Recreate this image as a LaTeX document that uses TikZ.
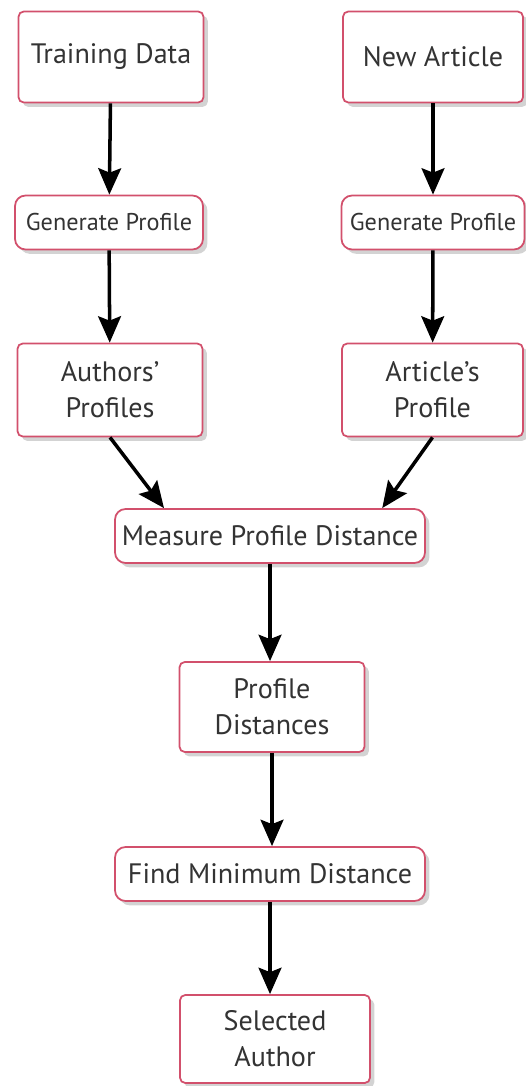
\documentclass[tikz,border=0pt]{standalone}
\usepackage{fontspec}
\setmainfont{PT Sans}
\usepackage{tikz}
\usetikzlibrary{arrows.meta, positioning, calc, shadows}
\usepackage{xcolor}
\definecolor{flowpink}{HTML}{D2506C}
\definecolor{flowtext}{HTML}{333333}

\begin{document}
\begin{tikzpicture}[
  box/.style={
    rectangle, rounded corners=3pt,
    draw=flowpink, line width=1pt, fill=white,
    drop shadow={opacity=0.35, shadow xshift=2.5pt, shadow yshift=-2.5pt},
    font=\fontsize{16}{20.5}\selectfont\color{flowtext}, align=center,
    inner sep=1pt
  },
  bigbox/.style={box, minimum width=3.7cm, minimum height=1.82cm},
  stepbox/.style={box, rounded corners=6pt, minimum height=1.08cm},
  genbox/.style={stepbox, font=\fontsize{13.8}{16}\selectfont\color{flowtext}},
  arr/.style={-{Stealth[length=15pt, width=13pt, inset=2.5pt]}, line width=2pt, black}
]
  \useasboundingbox (0,0) rectangle (10.52,-21.72);

  \node[bigbox] (train) at (2.22,-1.14) {Training Data};
  \node[bigbox, minimum width=3.6cm] (article) at (8.66,-1.14) {New Article};

  \node[genbox, minimum width=3.76cm] (gen1) at (2.18,-4.45) {Generate Profile};
  \node[genbox, minimum width=3.66cm] (gen2) at (8.66,-4.45) {Generate Profile};

  \node[bigbox, minimum height=1.86cm] (authors) at (2.2,-7.8) {Authors'\\Profiles};
  \node[bigbox, minimum width=3.62cm, minimum height=1.86cm] (artprof) at (8.65,-7.8) {Article's\\Profile};

  \node[stepbox, minimum width=6.2cm] (measure) at (5.4,-10.72) {Measure Profile Distance};
  \node[bigbox, minimum width=3.7cm, minimum height=1.8cm] (dists) at (5.44,-14.14) {Profile\\Distances};
  \node[stepbox, minimum width=6.2cm] (findmin) at (5.4,-17.48) {Find Minimum Distance};
  \node[bigbox, minimum width=3.8cm, minimum height=1.76cm] (selected) at (5.5,-20.78) {Selected\\Author};

  \draw[arr] (train) -- (gen1);
  \draw[arr] (article) -- (gen2);
  \draw[arr] (gen1) -- (authors);
  \draw[arr] (gen2) -- (artprof);
  \draw[arr] (authors.south) -- ($(measure.north west)!0.16!(measure.north east)$);
  \draw[arr] (artprof.south) -- ($(measure.north west)!0.86!(measure.north east)$);
  \draw[arr] (measure.south) -- (measure.south |- dists.north);
  \draw[arr] (dists.south) -- (dists.south |- findmin.north);
  \draw[arr] (findmin.south) -- (findmin.south |- selected.north);
\end{tikzpicture}
\end{document}
